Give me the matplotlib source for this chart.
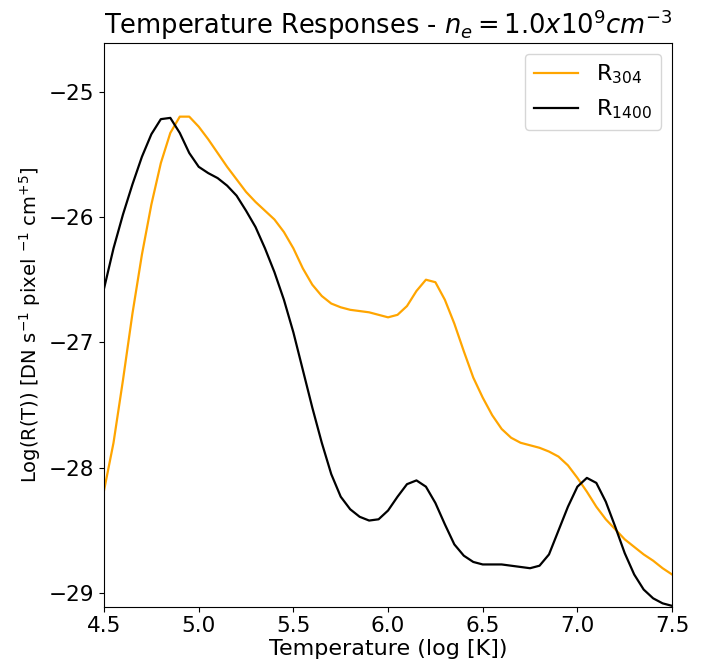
import numpy as np
import matplotlib
matplotlib.use("Agg")
import matplotlib.pyplot as plt

# log temperature grid (0.05 dex steps)
log_t = np.round(np.arange(4.5, 7.5001, 0.05), 2)

# Temperature responses
r304 = [-28.18, -27.80, -27.30, -26.77, -26.30, -25.90, -25.57, -25.33, -25.20, -25.20,
        -25.28, -25.38, -25.49, -25.60, -25.70, -25.80, -25.88, -25.95, -26.02, -26.12,
        -26.25, -26.41, -26.54, -26.63, -26.69, -26.72, -26.74, -26.75, -26.76, -26.78,
        -26.80, -26.78, -26.71, -26.59, -26.50, -26.52, -26.66, -26.85, -27.07, -27.28,
        -27.44, -27.58, -27.69, -27.76, -27.80, -27.82, -27.84, -27.87, -27.91, -27.98,
        -28.08, -28.19, -28.31, -28.41, -28.49, -28.57, -28.63, -28.69, -28.74, -28.80,
        -28.85]
r1400 = [-26.57, -26.25, -25.98, -25.74, -25.52, -25.34, -25.22, -25.21, -25.33, -25.49,
         -25.60, -25.65, -25.69, -25.75, -25.83, -25.95, -26.08, -26.25, -26.44, -26.66,
         -26.92, -27.22, -27.52, -27.80, -28.05, -28.23, -28.33, -28.39, -28.42, -28.41,
         -28.34, -28.23, -28.13, -28.10, -28.15, -28.28, -28.45, -28.61, -28.70, -28.75,
         -28.77, -28.77, -28.77, -28.78, -28.79, -28.80, -28.78, -28.69, -28.50, -28.31,
         -28.15, -28.08, -28.12, -28.27, -28.47, -28.68, -28.85, -28.97, -29.04, -29.08,
         -29.10]

fig = plt.figure(figsize=(7.03, 6.66), dpi=100)
ax = fig.add_axes([0.148, 0.089, 0.808, 0.847])

ax.plot(log_t, r304, color='orange', linewidth=1.6, label='R$_{304}$')
ax.plot(log_t, r1400, color='black', linewidth=1.6, label='R$_{1400}$')

ax.set_xlim(4.5, 7.5)
ax.set_ylim(-29.107, -24.61)
ax.set_xticks([4.5, 5.0, 5.5, 6.0, 6.5, 7.0, 7.5])
ax.set_yticks([-29, -28, -27, -26, -25])
ax.tick_params(labelsize=15.5)

ax.set_title('Temperature Responses - $n_e = 1.0x10^9cm^{-3}$', fontsize=18.5)
ax.set_xlabel('Temperature (log [K])', fontsize=16, labelpad=2)
ax.set_ylabel('Log(R(T)) [DN s$^{-1}$ pixel $^{-1}$ cm$^{+5}$]', fontsize=14)
ax.legend(loc='upper right', fontsize=16)

fig.savefig('out.png', dpi=100)
